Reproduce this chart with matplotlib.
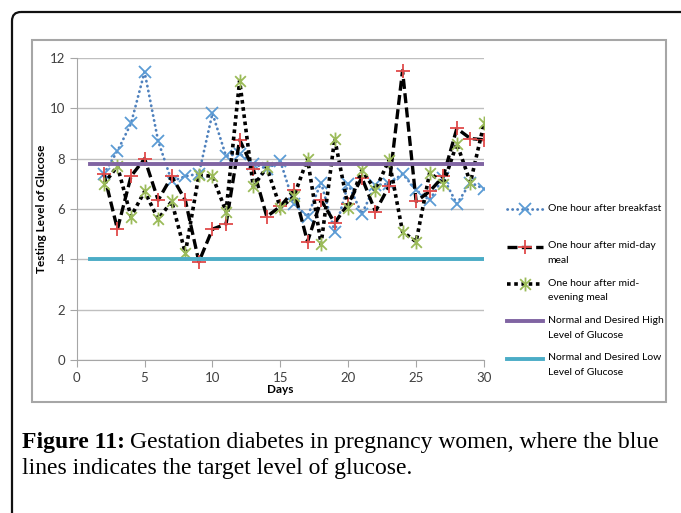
import matplotlib.pyplot as plt
from matplotlib.path import Path
from matplotlib.patches import FancyBboxPatch, Rectangle
from matplotlib.legend_handler import HandlerLine2D
from matplotlib.transforms import Affine2D

days = list(range(2, 31))
breakfast = [7.4, 8.3, 9.4, 11.45, 8.7, 7.1, 7.3, 7.4, 9.8, 8.1, 8.2, 7.8, 7.6, 7.9,
             6.2, 5.7, 7.05, 5.1, 7.0, 5.8, 6.95, 7.0, 7.4, 6.75, 6.35, 7.25, 6.2, 7.05, 6.8]
midday = [7.4, 5.2, 7.3, 8.0, 6.35, 7.3, 6.35, 3.9, 5.2, 5.4, 8.75, 7.6, 5.7, 6.1,
          6.75, 4.7, 6.35, 5.45, 6.2, 7.25, 5.9, 6.9, 11.5, 6.3, 6.7, 7.3, 9.2, 8.8, 8.75]
evening = [7.0, 7.7, 5.7, 6.7, 5.6, 6.3, 4.25, 7.35, 7.3, 5.9, 11.1, 6.9, 7.65, 6.05,
           6.5, 8.0, 4.6, 8.8, 6.05, 7.55, 6.75, 7.95, 5.1, 4.7, 7.45, 7.0, 8.6, 7.05, 9.4]
target_days = [1, 30]
high_level = [7.8, 7.8]
low_level = [4.0, 4.0]

# the blank second line keeps the first entry the same height as the others
labels = ['One hour after breakfast\n ',
          'One hour after mid-day\nmeal',
          'One hour after mid-\nevening meal',
          'Normal and Desired High\nLevel of Glucose',
          'Normal and Desired Low\nLevel of Glucose']

# excel style star marker: an x plus a vertical bar
star = Path([(-1, -1), (1, 1), (-1, 1), (1, -1), (0, -1.3), (0, 1.3)],
            [Path.MOVETO, Path.LINETO, Path.MOVETO, Path.LINETO, Path.MOVETO, Path.LINETO])


class FirstLineHandler(HandlerLine2D):
    # put the legend sample next to the first line of a two line label
    def create_artists(self, legend, orig_handle, xdescent, ydescent, width, height,
                       fontsize, trans):
        trans = Affine2D().translate(0, 0.62 * fontsize) + trans
        return super().create_artists(legend, orig_handle, xdescent, ydescent, width,
                                      height, fontsize, trans)


plt.rcParams['font.family'] = ['Lato', 'DejaVu Sans']

fig = plt.figure(figsize=(6.81, 5.13), dpi=100)

# background frames and caption in pixel coordinates
bg = fig.add_axes([0, 0, 1, 1], zorder=-1)
bg.set_xlim(0, 681)
bg.set_ylim(513, 0)
bg.axis('off')
bg.add_patch(FancyBboxPatch((12, 12), 720, 560, boxstyle='round,pad=0,rounding_size=9',
                            fill=False, edgecolor='#111111', linewidth=1.6))
bg.add_patch(Rectangle((32, 40), 634, 362, fill=False, edgecolor='#a6a6a6', linewidth=1.5))

ax = fig.add_axes([76.7 / 681, 1 - 360 / 513, (484 - 76.7) / 681, (360 - 58) / 513])

l1, = ax.plot(days, breakfast, color='#4F81BD', linestyle=(0, (0.1, 1.7)), linewidth=2.0,
              dash_capstyle='round', marker='x', markersize=8, markeredgewidth=1.3,
              markeredgecolor='#5B9BD5', label=labels[0])
l2, = ax.plot(days, midday, color='black', linestyle=(0, (3, 1.3)), linewidth=2.4,
              marker='+', markersize=10, markeredgewidth=1.3, markeredgecolor='#E04A4A',
              label=labels[1])
l3, = ax.plot(days, evening, color='black', linestyle=(0, (1, 1)), linewidth=2.6,
              marker=star, markersize=10, markeredgewidth=1.3, markeredgecolor='#9BBB59',
              markerfacecolor='none', label=labels[2])
l4, = ax.plot(target_days, high_level, color='#8064A2', linewidth=2.8, label=labels[3])
l5, = ax.plot(target_days, low_level, color='#4BACC6', linewidth=2.8, label=labels[4])

ax.set_xlim(0, 30)
ax.set_ylim(0, 12)
ax.set_xticks(range(0, 31, 5))
ax.set_yticks(range(0, 13, 2))
ax.grid(axis='y', color='#bfbfbf', linewidth=1)
ax.set_axisbelow(True)
for s in ['top', 'right']:
    ax.spines[s].set_visible(False)
for s in ['left', 'bottom']:
    ax.spines[s].set_color('#a6a6a6')
ax.tick_params(colors='#a6a6a6', labelcolor='#404040', labelsize=9.5, length=5)
ax.set_xlabel('Days', fontsize=8.5, fontweight='bold', labelpad=0)
ax.set_ylabel('Testing Level of Glucose', fontsize=8.5, fontweight='bold', labelpad=2)

hm = {h: FirstLineHandler() for h in (l1, l2, l3, l4, l5)}
leg = ax.legend(loc='upper left', bbox_to_anchor=(507 / 681, 1 - 204 / 513),
                bbox_transform=fig.transFigure, frameon=False, fontsize=7.5,
                handlelength=3.5, handletextpad=0.4, labelspacing=1.32,
                borderaxespad=0, borderpad=0, handler_map=hm)
for t in leg.get_texts():
    t.set_linespacing(1.8)

# caption
cap_font = ['Liberation Serif', 'DejaVu Serif']
t1 = bg.text(22, 448, 'Figure 11:', fontsize=17, fontweight='bold', family=cap_font,
             va='baseline', ha='left')
fig.canvas.draw()
r = fig.canvas.get_renderer()
bb = t1.get_window_extent(r)
bg.text(bb.x1 + 5, 448, 'Gestation diabetes in pregnancy women, where the blue',
        fontsize=17, family=cap_font, va='baseline', ha='left')
bg.text(22, 474, 'lines indicates the target level of glucose.', fontsize=17,
        family=cap_font, va='baseline', ha='left')

fig.savefig('out.png', dpi=100)
